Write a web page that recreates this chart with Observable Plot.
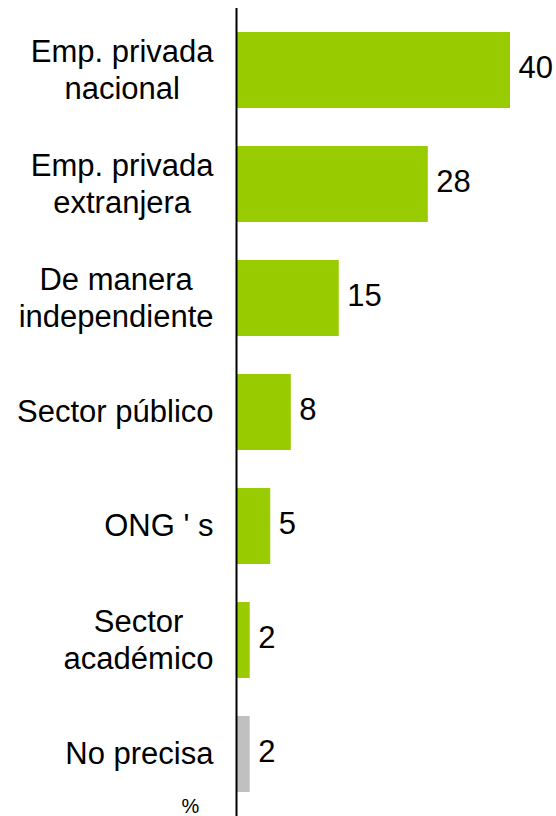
<!DOCTYPE html>
<html>
<head>
<meta charset="utf-8">
<script src="https://cdn.jsdelivr.net/npm/d3@7"></script>
<script src="https://cdn.jsdelivr.net/npm/@observablehq/plot@0.6"></script>
<style>
  html, body { margin: 0; padding: 0; background: #fff; }
  #chart svg { display: block; }
</style>
</head>
<body>
<div id="chart"></div>
<script>
const categories = [
  "Emp. privada\nnacional",
  "Emp. privada\nextranjera",
  "De manera\nindependiente",
  "Sector público",
  "ONG ' s",
  "Sector\nacadémico",
  "No precisa"
];
const values = [40, 28, 15, 8, 5, 2, 2];
const unitLabel = "%";

const data = categories.map((c, i) => ({category: c, value: values[i], missing: c === "No precisa"}));

const font = "'Liberation Sans', Arial, sans-serif";
const fs = 31;

// measure widest line of each label so multi-line labels are centred as a block, right-aligned to the axis
const ctx = document.createElement("canvas").getContext("2d");
ctx.font = `${fs}px 'Liberation Sans', Arial, sans-serif`;
const blockWidth = c => Math.max(...c.split("\n").map(s => ctx.measureText(s).width));

const labelMarks = data.map(d => Plot.text([d], {
  y: "category",
  x: 0,
  text: "category",
  textAnchor: "middle",
  dx: -23 - blockWidth(d.category) / 2,
  dy: -2,
  fontSize: fs,
  lineHeight: 1.2,
  fill: "#000"
}));

const chart = Plot.plot({
  width: 556,
  height: 816,
  marginLeft: 236,
  marginRight: 46,
  marginTop: 8,
  marginBottom: 0,
  style: {fontFamily: font, background: "#fff"},
  x: {domain: [0, 40], axis: null},
  y: {domain: categories, axis: null, paddingInner: 0.33, paddingOuter: 0.19},
  marks: [
    Plot.barX(data, {
      y: "category",
      x: "value",
      fill: d => d.missing ? "#c0c0c0" : "#99cc00"
    }),
    Plot.ruleX([0], {stroke: "#000", strokeWidth: 2}),
    ...labelMarks,
    Plot.text(data, {
      y: "category",
      x: "value",
      text: d => String(d.value),
      textAnchor: "start",
      dx: 8,
      dy: -2,
      fontSize: fs,
      fill: "#000"
    }),
    Plot.text([unitLabel], {
      frameAnchor: "bottom-left",
      text: d => d,
      textAnchor: "middle",
      lineAnchor: "bottom",
      dx: -46,
      dy: -4,
      fontSize: 20,
      fill: "#000"
    })
  ]
});
document.getElementById("chart").appendChild(chart);
</script>
</body>
</html>
